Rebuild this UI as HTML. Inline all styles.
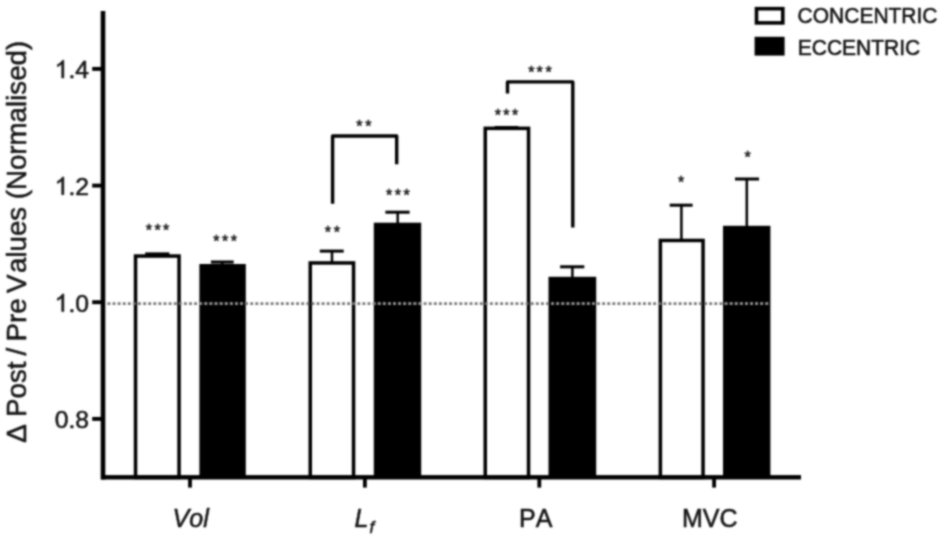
<!DOCTYPE html>
<html><head><meta charset="utf-8">
<style>
html,body{margin:0;padding:0;background:#fff;}
body{width:945px;height:541px;overflow:hidden;}
svg{display:block;}
text{font-family:"Liberation Sans",sans-serif;fill:#151515;font-kerning:none;stroke:#151515;stroke-width:0.55px;}
</style></head><body>
<svg width="945" height="541" viewBox="0 0 945 541">
<defs><filter id="bl" filterUnits="userSpaceOnUse" x="0" y="0" width="945" height="541" color-interpolation-filters="sRGB"><feConvolveMatrix order="5" kernelMatrix="1 6 12 6 1 6 36 72 36 6 12 72 144 72 12 6 36 72 36 6 1 6 12 6 1" divisor="676" edgeMode="duplicate"/></filter></defs>
<g filter="url(#bl)">
<rect width="945" height="541" fill="#fff"/>
<!-- y title -->
<g transform="translate(25.65,0) rotate(-90) scale(1,1.025)" font-size="27.7" style="stroke-width:0.25px">
<text x="-442.8">Δ</text><text x="-416.9">Post</text><text x="-355.4">/</text><text x="-341.5">Pre</text><text x="-292.9">V</text><text x="-273">alues</text><text x="-199.3">(Normalised)</text>
</g>
<!-- y tick labels -->
<g font-size="24.7" text-anchor="end">
<text x="89" y="77.95">.4</text><path fill="#151515" stroke="#151515" stroke-width="45" transform="translate(54.67,77.95) scale(0.01206,-0.01206)" d="M763 0H583V1147Q518 1085 412 1023Q307 961 223 930V1104Q374 1175 487 1276Q600 1377 647 1466H763Z"/>
<text x="89" y="194.65">.2</text><path fill="#151515" stroke="#151515" stroke-width="45" transform="translate(54.67,194.65) scale(0.01206,-0.01206)" d="M763 0H583V1147Q518 1085 412 1023Q307 961 223 930V1104Q374 1175 487 1276Q600 1377 647 1466H763Z"/>
<text x="89" y="311.6">.0</text><path fill="#151515" stroke="#151515" stroke-width="45" transform="translate(54.67,311.6) scale(0.01206,-0.01206)" d="M763 0H583V1147Q518 1085 412 1023Q307 961 223 930V1104Q374 1175 487 1276Q600 1377 647 1466H763Z"/>
<text x="89" y="428.25">0.8</text>
</g>
<!-- dotted reference line -->

<!-- bars -->
<rect x="135.55" y="256.05" width="43.50" height="221.45" fill="#fff" stroke="#000" stroke-width="3.5"/>
<rect x="199.4" y="264.0" width="46.40" height="213.50" fill="#000"/>
<rect x="310.25" y="262.95" width="43.30" height="214.55" fill="#fff" stroke="#000" stroke-width="3.5"/>
<rect x="373.8" y="222.7" width="47.40" height="254.80" fill="#000"/>
<rect x="485.25" y="128.35" width="43.30" height="349.15" fill="#fff" stroke="#000" stroke-width="3.5"/>
<rect x="548.5" y="276.8" width="47.70" height="200.70" fill="#000"/>
<rect x="660.35" y="240.45" width="42.70" height="237.05" fill="#fff" stroke="#000" stroke-width="3.5"/>
<rect x="723.0" y="225.8" width="47.40" height="251.70" fill="#000"/>
<line x1="107.5" y1="303.7" x2="768.6" y2="303.7" stroke="#747474" stroke-width="2.8" stroke-dasharray="2.8 2.3"/>
<clipPath id="ecc"><rect x="199.4" y="290" width="46.4" height="30"/><rect x="373.8" y="290" width="47.4" height="30"/><rect x="548.5" y="290" width="47.7" height="30"/><rect x="723" y="290" width="47.4" height="30"/></clipPath>
<line x1="107.5" y1="303.7" x2="768.6" y2="303.7" stroke="#8e8e8e" stroke-width="2.8" stroke-dasharray="2.8 2.3" clip-path="url(#ecc)"/>
<!-- error bars -->
<g fill="#000">
<rect x="145.2" y="252.40" width="24.20" height="3"/>
<rect x="221.05" y="262.00" width="2.5" height="3.00"/><rect x="210.9" y="260.50" width="22.80" height="3"/>
<rect x="330.75" y="251.10" width="2.5" height="11.10"/><rect x="319.8" y="249.60" width="23.90" height="3"/>
<rect x="396.45" y="212.20" width="2.5" height="11.50"/><rect x="385.4" y="210.70" width="24.20" height="3"/>
<rect x="494.6" y="126.00" width="23.80" height="3"/>
<rect x="571.15" y="266.80" width="2.5" height="11.00"/><rect x="560.1" y="265.30" width="24.20" height="3"/>
<rect x="680.15" y="205.20" width="2.5" height="34.50"/><rect x="669.7" y="203.70" width="22.90" height="3"/>
<rect x="745.55" y="179.00" width="2.5" height="47.80"/><rect x="735.0" y="177.50" width="24.00" height="3"/>
</g>
<g stroke="#000" stroke-width="3.4" fill="none" stroke-linejoin="round">
<!-- brackets -->
<path d="M332.6 203.8V136H396.7V164.2"/>
<path d="M507.5 93.6V81.9H572.8V227.6"/>
</g>
<!-- axes -->
<g fill="#000">
<rect x="100.7" y="11" width="4.6" height="468.5"/>
<rect x="101" y="475.1" width="700" height="4.4"/>
<!-- y ticks -->
<rect x="92.2" y="66.95" width="9" height="3.9"/>
<rect x="92.2" y="183.65" width="9" height="3.9"/>
<rect x="92.2" y="300.25" width="9" height="3.9"/>
<rect x="92.2" y="416.95" width="9" height="3.9"/>
<!-- x ticks -->
<rect x="188.1" y="478" width="3.8" height="9.6"/>
<rect x="363.0" y="478" width="3.8" height="9.6"/>
<rect x="537.4" y="478" width="3.8" height="9.6"/>
<rect x="712.2" y="478" width="3.8" height="9.6"/>
</g>
<!-- stars -->
<g font-size="16" style="stroke-width:0.8px">
<text x="145.80" y="235.70">*</text><text x="154.50" y="235.70">*</text><text x="163.10" y="235.70">*</text>
<text x="213.30" y="247.10">*</text><text x="222.00" y="247.10">*</text><text x="230.70" y="247.10">*</text>
<text x="324.80" y="238.10">*</text><text x="333.70" y="238.10">*</text>
<text x="386.00" y="200.70">*</text><text x="394.70" y="200.70">*</text><text x="403.60" y="200.70">*</text>
<text x="494.70" y="120.90">*</text><text x="503.20" y="120.90">*</text><text x="511.90" y="120.90">*</text>
<text x="678.00" y="187.70">*</text>
<text x="744.60" y="162.50">*</text>
<text x="356.30" y="132.30">*</text><text x="365.20" y="132.30">*</text>
<text x="528.20" y="77.50">*</text><text x="536.50" y="77.50">*</text><text x="545.40" y="77.50">*</text>
</g>
<!-- x labels -->
<g font-size="25">
<text x="172.6" y="526.7" font-style="italic">Vol</text>
<text x="354.5" y="527" font-style="italic">L<tspan font-size="17" dx="1.2" dy="5.5">f</tspan></text>
<text x="519" y="527">PA</text>
<text x="682" y="527">MVC</text>
</g>
<!-- legend -->
<rect x="756.5" y="8.7" width="26.3" height="14.2" fill="#fff" stroke="#000" stroke-width="3.6"/>
<rect x="754.6" y="36.8" width="30" height="18.8" fill="#000"/>
<g font-size="21" style="stroke-width:0.25px">
<text transform="translate(797.6 22.6) scale(1 1.07)">CONCENTRIC</text>
<text transform="translate(797.8 55) scale(1 1.07)">ECCENTRIC</text>
</g>
</g>
</svg>
</body></html>
